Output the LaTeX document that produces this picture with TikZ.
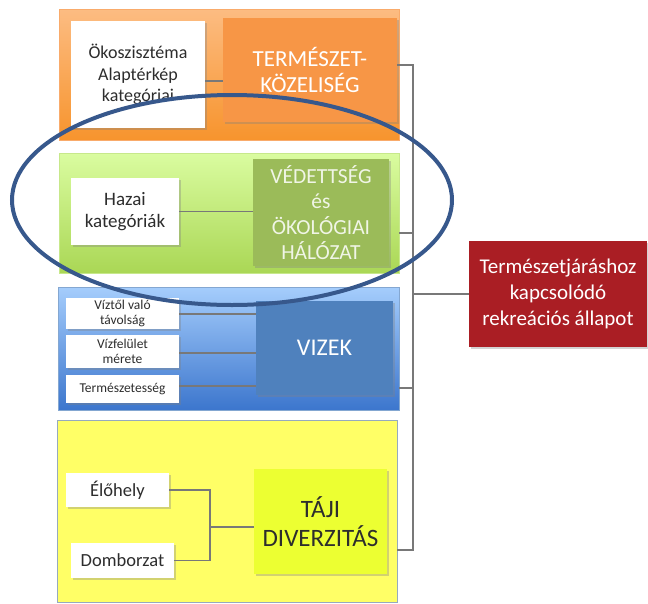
\documentclass[tikz,border=0pt]{standalone}
\usepackage{fontspec}
\setmainfont{Carlito}
\usetikzlibrary{shapes.geometric,shadows}
\definecolor{orbox}{RGB}{247,150,70}
\definecolor{ortop}{RGB}{252,188,130}
\definecolor{orbot}{RGB}{247,148,45}
\definecolor{grbox}{RGB}{155,187,89}
\definecolor{grtop}{RGB}{218,252,160}
\definecolor{grbot}{RGB}{170,215,85}
\definecolor{blbox}{RGB}{79,129,189}
\definecolor{bltop}{RGB}{165,205,252}
\definecolor{blbot}{RGB}{60,118,205}
\definecolor{yepanel}{RGB}{255,255,102}
\definecolor{yebox}{RGB}{236,255,50}
\definecolor{redbox}{RGB}{170,30,36}
\definecolor{ringc}{RGB}{55,88,140}
\definecolor{conn}{RGB}{120,120,120}
\definecolor{txt}{RGB}{45,45,45}
\tikzset{
  panel/.style={rectangle, inner sep=0pt, line width=0.8pt},
  whitebox/.style={rectangle, fill=white, inner sep=0pt, align=center, text=txt,
    drop shadow={shadow xshift=1.5pt, shadow yshift=-1.5pt, opacity=0.35}},
  bigbox/.style={rectangle, inner sep=0pt, align=center, text=white,
    drop shadow={shadow xshift=2pt, shadow yshift=-2pt, opacity=0.35}},
  wire/.style={draw=conn, line width=1.6pt},
  ring/.style={ellipse, draw=ringc, line width=4pt, inner sep=0pt}
}
\begin{document}
\begin{tikzpicture}[x=1pt,y=-1pt]
\useasboundingbox (0,0) rectangle (648,603);
% panels
\node[panel, draw=orbox!80, top color=ortop, bottom color=orbot, minimum width=340pt, minimum height=131pt] (pO) at (229,74.5) {};
\node[panel, draw=grtop!70!grbox, top color=grtop, bottom color=grbot, minimum width=340pt, minimum height=120pt] (pG) at (229,213) {};
\node[panel, draw=blbox!70, top color=bltop, bottom color=blbot, minimum width=341pt, minimum height=123pt] (pB) at (228.5,348.5) {};
\node[panel, draw={rgb,255:red,150;green,170;blue,190}, fill=yepanel, minimum width=340pt, minimum height=182pt] (pY) at (227,511) {};
% orange group
\node[whitebox, minimum width=134pt, minimum height=107pt, font=\fontsize{18}{21.5}\selectfont] (oko) at (138,74.5) {Ökoszisztéma\\Alaptérkép\\kategóriai};
\node[bigbox, fill=orbox, minimum width=174pt, minimum height=104pt, font=\fontsize{23}{26}\selectfont] (tk) at (310,70) {TERMÉSZET-\\KÖZELISÉG};
% green group
\node[whitebox, minimum width=108pt, minimum height=67pt, font=\fontsize{19}{22}\selectfont] (haz) at (125,211.5) {Hazai\\kategóriák};
\node[bigbox, fill=grbox, text={rgb,255:red,240;green,245;blue,230}, minimum width=136pt, minimum height=107pt, font=\fontsize{21.5}{25.5}\selectfont] (ved) at (321,212.5) {VÉDETTSÉG\\és\\ÖKOLÓGIAI\\HÁLÓZAT};
% blue group
\node[whitebox, minimum width=113pt, minimum height=31pt, font=\fontsize{13.5}{15.5}\selectfont] (viz1) at (122.5,313.5) {Víztől való\\távolság};
\node[whitebox, minimum width=113pt, minimum height=33pt, font=\fontsize{13.5}{15.5}\selectfont] (viz2) at (122.5,351.5) {Vízfelület\\mérete};
\node[whitebox, minimum width=113pt, minimum height=28pt, font=\fontsize{13.5}{15.5}\selectfont] (viz3) at (122.5,389) {Természetesség};
\node[bigbox, fill=blbox, minimum width=137pt, minimum height=94pt, font=\fontsize{24}{28}\selectfont] (vizek) at (324.5,348) {VIZEK};
% yellow group
\node[whitebox, minimum width=103pt, minimum height=34pt, font=\fontsize{18.5}{21}\selectfont] (elo) at (117.5,490) {Élőhely};
\node[whitebox, minimum width=103pt, minimum height=35pt, font=\fontsize{18.5}{21}\selectfont] (dom) at (122.5,560.5) {Domborzat};
\node[bigbox, fill=yebox, text=txt, minimum width=133pt, minimum height=105pt, font=\fontsize{25}{28.5}\selectfont] (taji) at (320.5,521.5) {TÁJI\\DIVERZITÁS};
% red
\node[bigbox, fill=redbox, minimum width=178pt, minimum height=106pt, font=\fontsize{21}{26}\selectfont] (red) at (558,294) {Természetjáráshoz\\kapcsolódó\\rekreációs állapot};
% inner connectors
\draw[wire] (oko.east |- 0,81) -- (tk.west |- 0,81);
\draw[wire] (haz.east) -- (ved.west |- haz.east);
\draw[wire] (viz1.east |- 0,314) -- (vizek.west |- 0,314);
\draw[wire] (viz2.east |- 0,353) -- (vizek.west |- 0,353);
\draw[wire] (viz3.east |- 0,386) -- (vizek.west |- 0,386);
\coordinate (elbow) at (210,527);
\draw[wire] (elo.east) -| (elbow) |- (dom.east);
\draw[wire] (elbow) -- (taji.west |- elbow);
% bracket
\coordinate (bt) at (413,65);
\coordinate (bb) at (413,550);
\draw[wire, line width=1.4pt] (tk.east |- bt) -- (bt) -- (bb) -- (pY.east |- bb);
\draw[wire, line width=1.4pt] (pG.east |- 0,233) -- (413,233);
\draw[wire, line width=1.4pt] (pB.east |- 0,388) -- (413,388);
\draw[wire, line width=1.4pt] (413,294) -- (red.west);
% ellipse
\node[ring, minimum width=440pt, minimum height=210pt] (ring) at (232,200) {};
\end{tikzpicture}
\end{document}
